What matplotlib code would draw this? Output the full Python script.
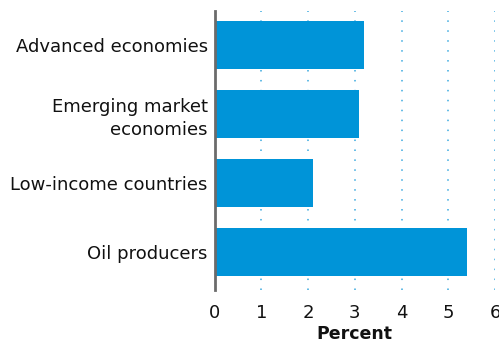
import matplotlib
matplotlib.use("Agg")
import matplotlib.pyplot as plt

categories = ["Advanced economies", "Emerging market\neconomies", "Low-income countries", "Oil producers"]
values = [3.2, 3.1, 2.1, 5.4]
xticks = [0, 1, 2, 3, 4, 5, 6]

plt.rcParams['font.family'] = ['DejaVu Sans']

fig = plt.figure(figsize=(4.99, 3.45), dpi=100)
ax = fig.add_axes([0.43, 0.159, 0.562, 0.81])

ypos = list(range(len(categories)))
ax.barh(ypos, values, height=0.7, color='#0094d8', zorder=3)
ax.set_yticks(ypos)
ax.set_yticklabels(categories, fontsize=13, color='#111111', linespacing=1.35)
ax.set_ylim(len(categories) - 0.45, -0.5)
ax.set_xlim(0, 6)
ax.set_xticks(xticks)
ax.set_xticklabels([str(t) for t in xticks], fontsize=13, color='#111111')
ax.tick_params(axis='x', length=0, pad=10)
ax.tick_params(axis='y', length=0, pad=5)
ax.xaxis.grid(True, color='#3aa9df', linestyle=(0, (1, 5.5)), linewidth=1.1, zorder=0)
for s in ['top', 'right', 'bottom']:
    ax.spines[s].set_visible(False)
ax.spines['left'].set_color('#6b6b6b')
ax.spines['left'].set_linewidth(2)
ax.spines['left'].set_zorder(4)
ax.set_xlabel("Percent", fontsize=12.5, fontweight='bold', color='#111111', labelpad=2)

fig.savefig("out.png", dpi=100)
